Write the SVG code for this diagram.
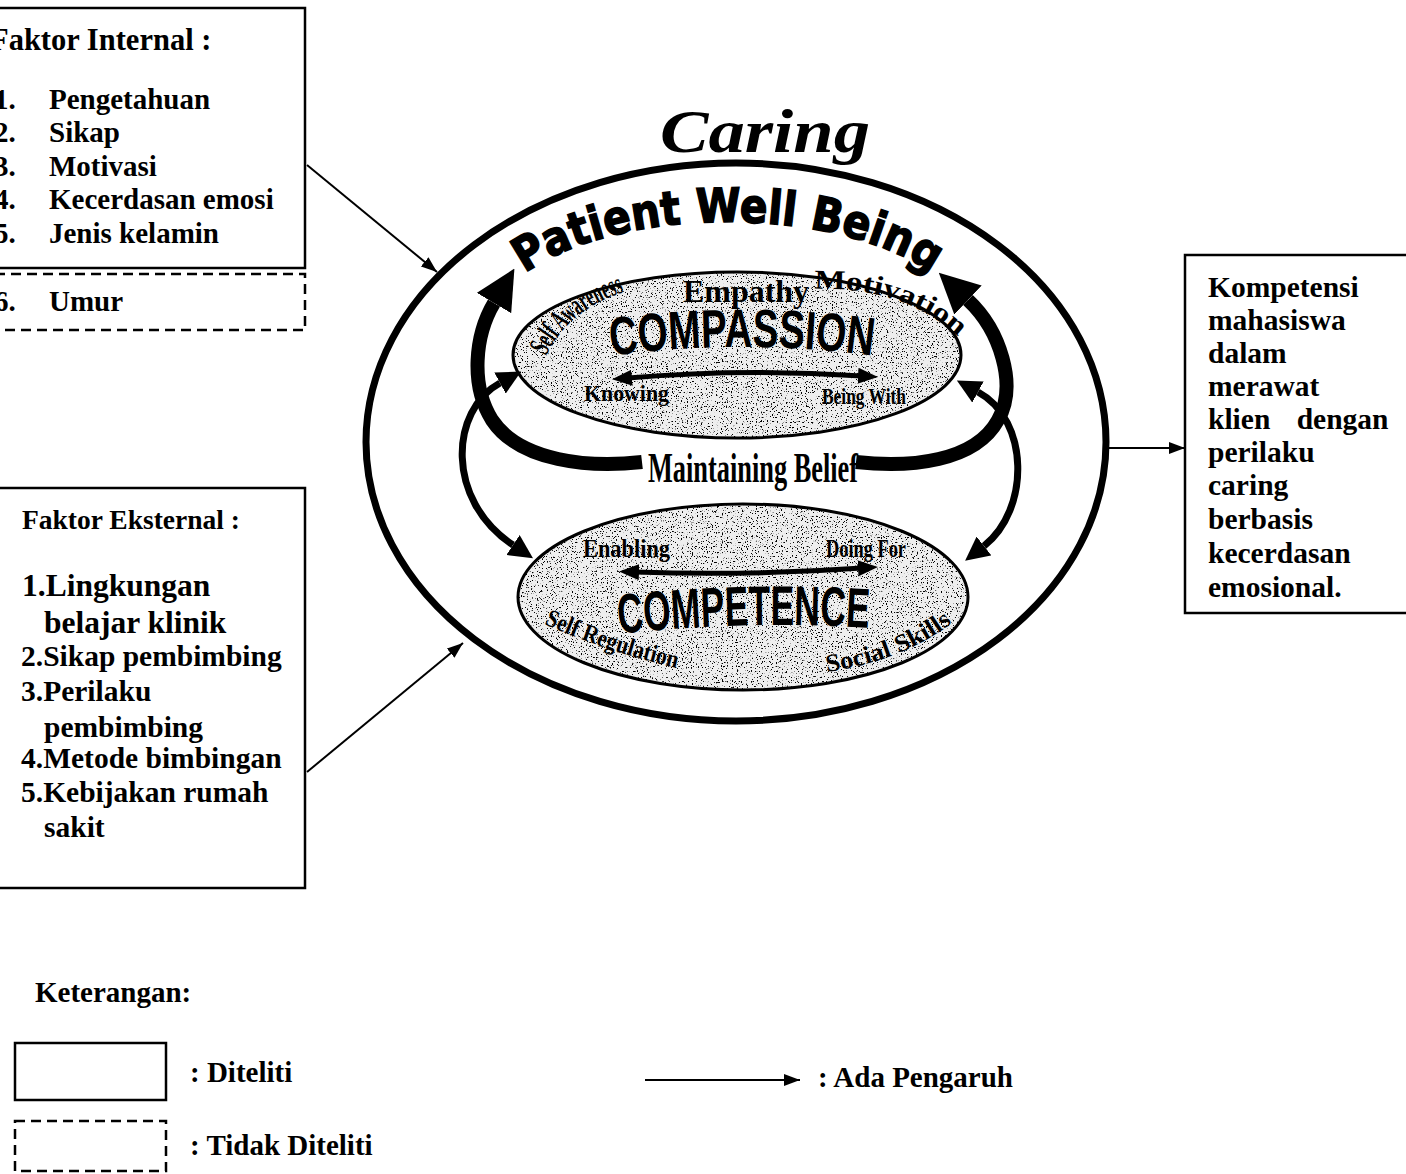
<svg xmlns="http://www.w3.org/2000/svg" width="1406" height="1174" viewBox="0 0 1406 1174">
  <style>
    .box { fill: #fff; stroke: #000; stroke-width: 2.5; }
    .dash { fill: none; stroke: #000; stroke-width: 2.5; stroke-dasharray: 10 6; }
    .serif { font-family: "Liberation Serif", "Times New Roman", serif; font-weight: bold; fill: #000; }
    .sans { font-family: "Liberation Sans", Arial, sans-serif; font-weight: bold; fill: #000; }
    .heavy { font-family: "DejaVu Sans", "Liberation Sans", sans-serif; font-weight: 900; fill: #000; stroke: #000; stroke-width: 1.6; }
    .link { fill: none; stroke: #000; stroke-width: 2; }
    .thick { fill: none; stroke: #000; stroke-width: 14; }
    .thin { fill: none; stroke: #000; stroke-width: 7; }
    .inner { fill: none; stroke: #000; stroke-width: 5; }
  </style>
  <defs>
    <marker id="head" viewBox="0 0 16 12" refX="16" refY="6" markerWidth="16" markerHeight="12" markerUnits="userSpaceOnUse" orient="auto">
      <path d="M0 0 L16 6 L0 12 z" fill="#000"/>
    </marker>
    <marker id="headBig" viewBox="0 0 40 40" refX="0" refY="20" markerWidth="40" markerHeight="40" markerUnits="userSpaceOnUse" orient="auto">
      <path d="M0 0 L40 20 L0 40 z" fill="#000"/>
    </marker>
    <marker id="headMid" viewBox="0 0 24 24" refX="0" refY="12" markerWidth="24" markerHeight="24" markerUnits="userSpaceOnUse" orient="auto-start-reverse">
      <path d="M0 0 L24 12 L0 24 z" fill="#000"/>
    </marker>
    <marker id="headSmall" viewBox="0 0 20 16" refX="4" refY="8" markerWidth="20" markerHeight="16" markerUnits="userSpaceOnUse" orient="auto-start-reverse">
      <path d="M0 0 L20 8 L0 16 z" fill="#000"/>
    </marker>
    <!-- speckled grain used for the two inner ellipses -->
    <filter id="grain" x="0" y="0" width="1" height="1">
      <feTurbulence type="fractalNoise" baseFrequency="0.8" numOctaves="1" seed="7" result="noise"/>
      <feColorMatrix in="noise" type="matrix" values="0 0 0 0 0  0 0 0 0 0  0 0 0 0 0  14 0 0 0 -8.4" result="dots"/>
      <feComposite in="dots" in2="SourceAlpha" operator="in"/>
    </filter>
    <path id="pwbArc" d="M 488 332 A 240 110 0 0 1 968 332"/>
    <path id="compArc" d="M 610 356 Q 742 338 874 356"/>
    <path id="compeArc" d="M 618 634 Q 744 620 870 628"/>
    <path id="motivArc" d="M 814 289 Q 910 286 966 344"/>
    <path id="awareArc" d="M 546 356 Q 568 310 624 292"/>
    <path id="regulArc" d="M 544 624 Q 612 654 686 670"/>
    <path id="socialArc" d="M 827 672 Q 910 660 963 614"/>
  </defs>

  <rect width="1406" height="1174" fill="#fff"/>

  <!-- Internal factors (studied) -->
  <g id="internal-factors">
    <rect class="box" x="-5" y="8" width="310" height="260"/>
    <text class="serif" x="-10" y="50" font-size="30.5">Faktor Internal :</text>
    <g font-size="29">
      <text class="serif" x="-6" y="109">1.</text><text class="serif" x="49" y="109">Pengetahuan</text>
      <text class="serif" x="-6" y="142">2.</text><text class="serif" x="49" y="142">Sikap</text>
      <text class="serif" x="-6" y="176">3.</text><text class="serif" x="49" y="176">Motivasi</text>
      <text class="serif" x="-6" y="209">4.</text><text class="serif" x="49" y="209">Kecerdasan emosi</text>
      <text class="serif" x="-6" y="243">5.</text><text class="serif" x="49" y="243">Jenis kelamin</text>
    </g>
  </g>

  <!-- Internal factor not studied -->
  <g id="age-factor">
    <path class="dash" d="M -5 274 H 305 V 330 H -5"/>
    <text class="serif" x="-6" y="311" font-size="29">6.</text>
    <text class="serif" x="49" y="311" font-size="29">Umur</text>
  </g>

  <!-- External factors -->
  <g id="external-factors">
    <rect class="box" x="-5" y="488" width="310" height="400"/>
    <text class="serif" x="22" y="529" font-size="27.5">Faktor Eksternal :</text>
    <text class="serif" x="22" y="596" font-size="31.5">1.Lingkungan</text>
    <text class="serif" x="44" y="633" font-size="31.5">belajar klinik</text>
    <text class="serif" x="21" y="666" font-size="29.5">2.Sikap pembimbing</text>
    <text class="serif" x="21" y="701" font-size="29.5">3.Perilaku</text>
    <text class="serif" x="44" y="737" font-size="29.5">pembimbing</text>
    <text class="serif" x="21" y="768" font-size="29.5">4.Metode bimbingan</text>
    <text class="serif" x="21" y="802" font-size="29.5">5.Kebijakan rumah</text>
    <text class="serif" x="44" y="837" font-size="29.5">sakit</text>
  </g>

  <!-- Caring model -->
  <g id="caring-model">
    <ellipse cx="736" cy="442" rx="370" ry="279" fill="none" stroke="#000" stroke-width="7"/>
    <text class="serif" x="765" y="152" font-size="62" font-style="italic" text-anchor="middle" textLength="210" lengthAdjust="spacingAndGlyphs">Caring</text>
    <text class="heavy" font-size="47"><textPath href="#pwbArc" startOffset="50%" text-anchor="middle" textLength="425" lengthAdjust="spacingAndGlyphs">Patient Well Being</textPath></text>
  </g>

  <!-- Compassion -->
  <g id="compassion">
    <ellipse cx="737" cy="355" rx="224" ry="83" fill="#eeeeee"/>
    <ellipse cx="737" cy="355" rx="224" ry="83" fill="#fff" filter="url(#grain)"/>
    <ellipse cx="737" cy="355" rx="224" ry="83" fill="none" stroke="#000" stroke-width="3"/>
    <text class="serif" x="746" y="302" font-size="32" text-anchor="middle" textLength="126" lengthAdjust="spacingAndGlyphs">Empathy</text>
    <text class="serif" font-size="30"><textPath href="#awareArc" textLength="104" lengthAdjust="spacingAndGlyphs">Self Awareness</textPath></text>
    <text class="serif" font-size="27"><textPath href="#motivArc" textLength="156" lengthAdjust="spacingAndGlyphs">Motivation</textPath></text>
    <text class="sans" font-size="54"><textPath href="#compArc" startOffset="50%" text-anchor="middle" textLength="262" lengthAdjust="spacingAndGlyphs">COMPASSION</textPath></text>
    <path class="inner" d="M 628 378 Q 744 368 862 376" marker-start="url(#headSmall)" marker-end="url(#headSmall)"/>
    <text class="serif" x="584" y="401" font-size="24" textLength="85" lengthAdjust="spacingAndGlyphs">Knowing</text>
    <text class="serif" x="822" y="404" font-size="24" textLength="84" lengthAdjust="spacingAndGlyphs">Being With</text>
  </g>

  <!-- Maintaining belief -->
  <g id="maintaining-belief">
    <text class="serif" x="753" y="482" font-size="42" text-anchor="middle" textLength="210" lengthAdjust="spacingAndGlyphs">Maintaining Belief</text>
  </g>

  <!-- Competence -->
  <g id="competence">
    <ellipse cx="743" cy="597" rx="225" ry="93" fill="#eeeeee"/>
    <ellipse cx="743" cy="597" rx="225" ry="93" fill="#fff" filter="url(#grain)"/>
    <ellipse cx="743" cy="597" rx="225" ry="93" fill="none" stroke="#000" stroke-width="3"/>
    <text class="serif" x="583" y="557" font-size="25" textLength="87" lengthAdjust="spacingAndGlyphs">Enabling</text>
    <text class="serif" x="826" y="557" font-size="25" textLength="80" lengthAdjust="spacingAndGlyphs">Doing For</text>
    <path class="inner" d="M 635 572 Q 748 576 862 568" marker-start="url(#headSmall)" marker-end="url(#headSmall)"/>
    <text class="sans" font-size="56"><textPath href="#compeArc" startOffset="50%" text-anchor="middle" textLength="250" lengthAdjust="spacingAndGlyphs">COMPETENCE</textPath></text>
    <text class="serif" font-size="25"><textPath href="#regulArc" textLength="140" lengthAdjust="spacingAndGlyphs">Self Regulation</textPath></text>
    <text class="serif" font-size="25"><textPath href="#socialArc" textLength="136" lengthAdjust="spacingAndGlyphs">Social Skills</textPath></text>
  </g>

  <!-- Outcome -->
  <g id="outcome">
    <rect class="box" x="1185" y="255" width="240" height="358"/>
    <g font-size="29.5">
      <text class="serif" x="1208" y="297">Kompetensi</text>
      <text class="serif" x="1208" y="330">mahasiswa</text>
      <text class="serif" x="1208" y="363">dalam</text>
      <text class="serif" x="1208" y="396">merawat</text>
      <text class="serif" x="1208" y="429" word-spacing="19">klien dengan</text>
      <text class="serif" x="1208" y="462">perilaku</text>
      <text class="serif" x="1208" y="495">caring</text>
      <text class="serif" x="1208" y="529">berbasis</text>
      <text class="serif" x="1208" y="563">kecerdasan</text>
      <text class="serif" x="1208" y="597">emosional.</text>
    </g>
  </g>

  <!-- Connectors -->
  <g id="connectors">
    <!-- cycle arrows around the two cores -->
    <path class="thick" d="M 642 462 C 590 468 520 462 492 420 C 470 385 475 335 494 303" marker-end="url(#headBig)"/>
    <path class="thick" d="M 856 462 C 910 468 975 462 998 420 C 1018 385 1000 330 968 300" marker-end="url(#headBig)"/>
    <path class="thin" d="M 500 383 C 450 410 445 500 513 545" marker-start="url(#headMid)" marker-end="url(#headMid)"/>
    <path class="thin" d="M 978 392 C 1030 420 1030 510 984 546" marker-start="url(#headMid)" marker-end="url(#headMid)"/>
    <!-- influence arrows -->
    <line class="link" x1="307" y1="165" x2="437" y2="272" marker-end="url(#head)"/>
    <line class="link" x1="307" y1="772" x2="463" y2="643" marker-end="url(#head)"/>
    <line class="link" x1="1107" y1="448" x2="1185" y2="448" marker-end="url(#head)"/>
  </g>

  <!-- Legend -->
  <g id="legend">
    <text class="serif" x="35" y="1002" font-size="29">Keterangan:</text>
    <rect class="box" x="15" y="1043" width="151" height="57"/>
    <text class="serif" x="190" y="1082" font-size="29">: Diteliti</text>
    <rect class="dash" x="15" y="1121" width="151" height="50"/>
    <text class="serif" x="190" y="1155" font-size="29">: Tidak Diteliti</text>
    <line class="link" x1="645" y1="1080" x2="800" y2="1080" marker-end="url(#head)"/>
    <text class="serif" x="818" y="1087" font-size="29">: Ada Pengaruh</text>
  </g>
</svg>
